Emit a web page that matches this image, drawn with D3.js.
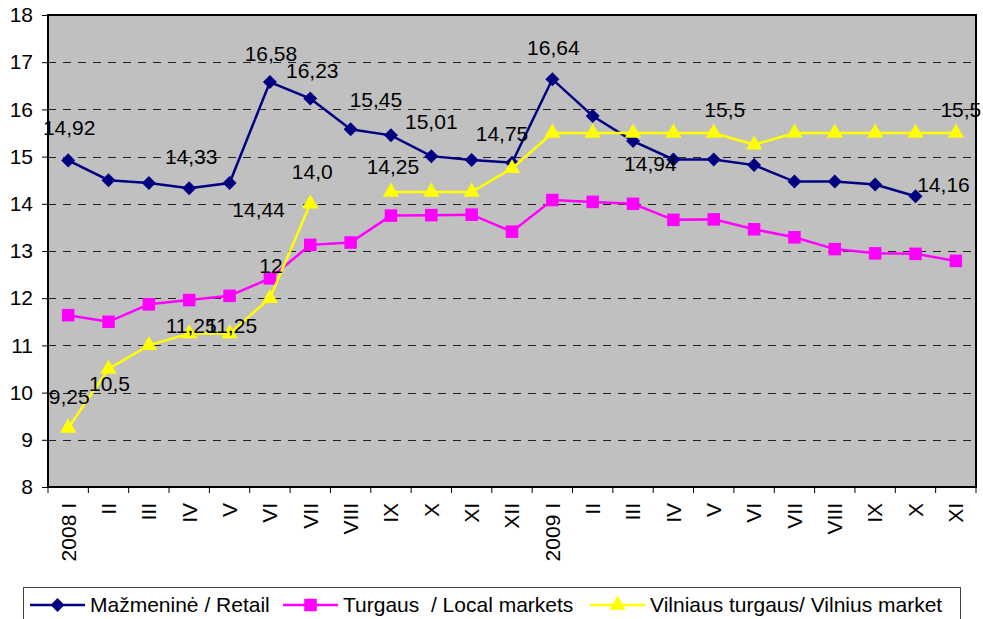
<!DOCTYPE html>
<html>
<head>
  <style>
    body { margin: 0; background: #fff; }
    text { font-family: "Liberation Sans", Arial, sans-serif; fill: #000; white-space: pre; }
  </style>
</head>
<body>
  <svg id="chart" width="983" height="619"></svg>
  <script src="https://d3js.org/d3.v7.min.js"></script>
  <script>
    // months
    const categories = ['2008 I','II','III','IV','V','VI','VII','VIII','IX','X','XI','XII',
                        '2009 I','II','III','IV','V','VI','VII','VIII','IX','X','XI']
    const retail = [14.92,14.5,14.44,14.33,14.44,16.58,16.23,15.58,15.45,15.01,14.93,14.87,
                    16.64,15.86,15.33,14.94,14.94,14.82,14.47,14.47,14.41,14.16,null]
    const local = [11.64,11.5,11.87,11.96,12.05,12.42,13.13,13.18,13.75,13.76,13.77,13.41,
                   14.08,14.04,14.0,13.66,13.67,13.46,13.29,13.04,12.95,12.94,12.79]
    const vilnius = [9.25,10.5,11,11.25,11.25,12,14.0,null,14.25,14.25,14.25,14.75,
                     15.5,15.5,15.5,15.5,15.5,15.25,15.5,15.5,15.5,15.5,15.5]
    const seriesNames = ['Mažmeninė / Retail', 'Turgaus  / Local markets', 'Vilniaus turgaus/ Vilnius market']
    const yTicks = [8,9,10,11,12,13,14,15,16,17,18]

    // data labels: series, category index, text
    const labels = [
      [0,0,'14,92'],[0,3,'14,33'],[0,4,'14,44'],[0,5,'16,58'],[0,6,'16,23'],[0,8,'15,45'],
      [0,9,'15,01'],[0,12,'16,64'],[0,15,'14,94'],[0,21,'14,16'],
      [2,0,'9,25'],[2,1,'10,5'],[2,3,'11,25'],[2,4,'11,25'],[2,5,'12'],[2,6,'14,0'],
      [2,8,'14,25'],[2,11,'14,75'],[2,16,'15,5'],[2,22,'15,5']
    ]
    // where excel dropped each label, relative to its point
    const nudge = [
      [1,-33],[2,-32],[29,27],[1,-28],[2,-28],[-15,-36],[0,-34],[1,-32],[-23,4],[28,-12],
      [1,-31],[1,15],[2,-8],[2,-8],[1,-33],[2,-32],[2,-25],[-10,-35],[11,-23],[5,-23]
    ]

    const svg = d3.select('#chart')
    const m = { left: 48, top: 15, right: 976, bottom: 487 }
    const fs = 21

    const x = d3.scaleBand().domain(d3.range(categories.length)).range([m.left, m.right])
    const y = d3.scaleLinear().domain([8, 18]).range([m.bottom, m.top])
    const cx = i => x(i) + x.bandwidth() / 2

    svg.append('rect')
      .attr('x', m.left).attr('y', m.top)
      .attr('width', m.right - m.left).attr('height', m.bottom - m.top)
      .attr('fill', '#c0c0c0')

    // dashed grid
    svg.append('g').selectAll('line').data(yTicks.slice(1, -1)).join('line')
      .attr('x1', m.left).attr('x2', m.right)
      .attr('y1', d => Math.round(y(d)) + 0.5).attr('y2', d => Math.round(y(d)) + 0.5)
      .attr('stroke', '#222').attr('stroke-dasharray', '8,7')

    // y axis
    const yAxis = svg.append('g').attr('transform', `translate(${m.left},0)`)
      .call(d3.axisLeft(y).tickValues(yTicks).tickSize(6).tickPadding(9))
    yAxis.select('.domain').remove()
    yAxis.selectAll('line').attr('stroke', '#000')
    yAxis.selectAll('text').attr('font-size', fs)
      .attr('font-family', '"Liberation Sans", Arial, sans-serif')

    // x axis: ticks on category boundaries
    svg.append('g').selectAll('line').data(d3.range(categories.length + 1)).join('line')
      .attr('x1', i => x.step() * i + m.left).attr('x2', i => x.step() * i + m.left)
      .attr('y1', m.bottom).attr('y2', m.bottom + 6)
      .attr('stroke', '#000')
    svg.append('g').selectAll('text').data(categories).join('text')
      .attr('transform', (d, i) => `translate(${cx(i)},${m.bottom + 16}) rotate(-90)`)
      .attr('text-anchor', 'end').attr('dy', '0.35em')
      .attr('font-size', fs)
      .text(d => d)

    svg.append('rect')
      .attr('x', m.left).attr('y', m.top)
      .attr('width', m.right - m.left).attr('height', m.bottom - m.top)
      .attr('fill', 'none').attr('stroke', '#000').attr('stroke-width', 2)

    const series = [
      { values: retail, color: '#000080', shape: d3.symbolDiamond2, size: 125 },
      { values: local, color: '#ff00ff', shape: d3.symbolSquare2, size: 200 },
      { values: vilnius, color: '#ffff00', shape: d3.symbolTriangle2, size: 190 }
    ]

    const line = d3.line()
      .defined(d => d != null)
      .x((d, i) => cx(i))
      .y(d => y(d))

    const plot = svg.append('g')
    series.forEach(s => {
      plot.append('path')
        .attr('d', line(s.values))
        .attr('fill', 'none').attr('stroke', s.color).attr('stroke-width', 2.5)
      plot.append('g').selectAll('path')
        .data(s.values.map((v, i) => [v, i]).filter(d => d[0] != null))
        .join('path')
        .attr('transform', d => `translate(${cx(d[1])},${y(d[0])})`)
        .attr('d', d3.symbol().type(s.shape).size(s.size))
        .attr('fill', s.color)
    })

    svg.append('g').selectAll('text').data(labels).join('text')
      .attr('x', (d, k) => cx(d[1]) + nudge[k][0])
      .attr('y', (d, k) => y(series[d[0]].values[d[1]]) + nudge[k][1])
      .attr('text-anchor', 'middle').attr('dy', '0.35em')
      .attr('font-size', fs)
      .text(d => d[2])

    // legend
    const leg = svg.append('g')
    leg.append('rect')
      .attr('x', 23.5).attr('y', 587.5).attr('width', 937).attr('height', 40)
      .attr('fill', '#fff').attr('stroke', '#444')
    const legX = [30, 283, 590]
    series.forEach((s, k) => {
      const g = leg.append('g').attr('transform', `translate(${legX[k]},605)`)
      g.append('line').attr('x1', 0).attr('x2', 55)
        .attr('stroke', s.color).attr('stroke-width', 2.5)
      g.append('path').attr('transform', 'translate(27.5,0)')
        .attr('d', d3.symbol().type(s.shape).size(s.size)).attr('fill', s.color)
      g.append('text').attr('x', 60).attr('dy', '0.35em')
        .attr('font-size', fs).text(seriesNames[k])
    })
  </script>
</body>
</html>
